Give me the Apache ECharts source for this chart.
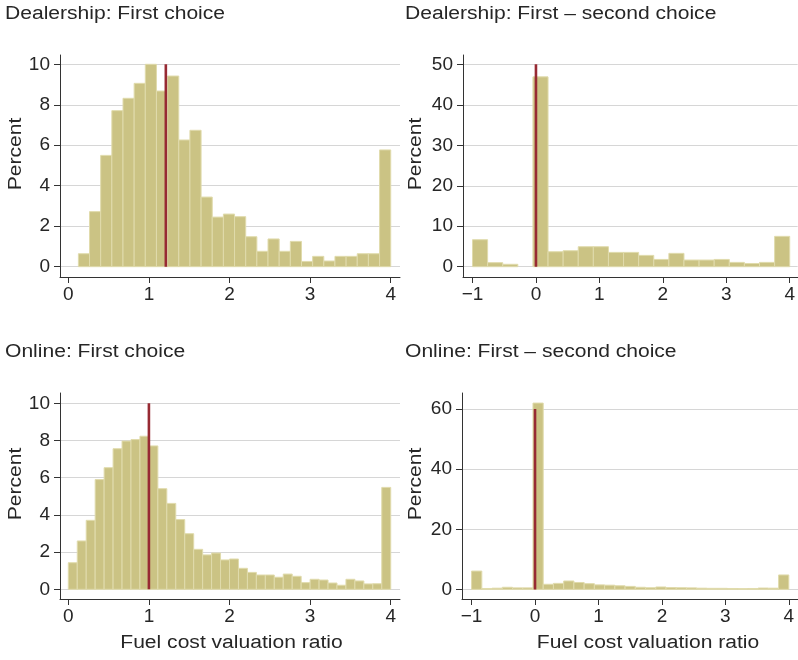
<!DOCTYPE html>
<html><head><meta charset="utf-8">
<script src="https://cdn.jsdelivr.net/npm/echarts@6/dist/echarts.min.js"></script>
<style>html,body{margin:0;padding:0;background:#fff}#c{width:798px;height:660px}</style>
</head><body><div id="c"></div>
<script>
// ---------------- data ----------------
const titles = ['Dealership: First choice', 'Dealership: First \u2013 second choice', 'Online: First choice', 'Online: First \u2013 second choice'];
const xTitle = 'Fuel cost valuation ratio';
const yTitle = 'Percent';

// histogram bins: start of first bin, bin width, percent per bin
const dealerFirstStart = 0.125;
const dealerFirstWidth = (4 - 0.125) / 28;
const dealerFirstValues = [0.64, 2.72, 5.5, 7.71, 8.32, 9.06, 10.0, 8.68, 9.42, 6.26, 6.74, 3.44, 2.45, 2.6, 2.47, 1.48, 0.76, 1.37, 0.76, 1.25, 0.26, 0.51, 0.28, 0.51, 0.51, 0.64, 0.64, 5.77];

const dealerDiffStart = -1;
const dealerDiffWidth = 5 / 21;
const dealerDiffValues = [6.67, 1.0, 0.6, 0, 46.9, 3.7, 3.95, 4.94, 4.94, 3.54, 3.54, 2.8, 1.8, 3.3, 1.65, 1.65, 1.8, 1.07, 0.8, 1.07, 7.5];

const onlineFirstStart = 0;
const onlineFirstWidth = 4 / 36;
const onlineFirstValues = [1.43, 2.6, 3.71, 5.9, 6.54, 7.56, 7.97, 8.05, 8.23, 7.71, 5.41, 4.62, 3.75, 2.99, 2.15, 1.85, 1.95, 1.58, 1.63, 1.13, 0.91, 0.77, 0.77, 0.65, 0.82, 0.70, 0.36, 0.54, 0.50, 0.34, 0.22, 0.54, 0.45, 0.29, 0.30, 5.48];

const onlineDiffStart = -1;
const onlineDiffWidth = 5 / 31;
const onlineDiffValues = [6.1, 0.3, 0.4, 0.7, 0.5, 0.5, 62, 1.7, 2.0, 2.8, 2.3, 1.9, 1.5, 1.4, 1.2, 1.0, 0.7, 0.55, 0.8, 0.6, 0.55, 0.5, 0.4, 0.35, 0.35, 0.3, 0.25, 0.3, 0.45, 0.4, 4.8];

// reference (median) lines
const refX = [1.21, 0, 1.0, 0];
const refTop = [10, 50, 10, 60];

// tick values
const xTicksFirst = [0, 1, 2, 3, 4];
const xTicksDiff = [-1, 0, 1, 2, 3, 4];
const yTicksDealerFirst = [0, 2, 4, 6, 8, 10];
const yTicksDealerDiff = [0, 10, 20, 30, 40, 50];
const yTicksOnlineFirst = [0, 2, 4, 6, 8, 10];
const yTicksOnlineDiff = [0, 20, 40, 60];

// ---------------- layout / style ----------------
const FONT = '"Liberation Sans", Arial, Helvetica, sans-serif';
const TXT = '#262626';
const AX = '#333333';
const FILL = '#cbc384';
const EDGE = '#e0dbac';
const RED = '#972a33';
const WIDEN = 1.17;

const panels = [
  {start: dealerFirstStart, width: dealerFirstWidth, values: dealerFirstValues, xt: xTicksFirst, yt: yTicksDealerFirst,
   grid: {left: 60, top: 55, width: 340, height: 222}, xr: [-0.103, 4.115], yr: [-0.51, 10.46]},
  {start: dealerDiffStart, width: dealerDiffWidth, values: dealerDiffValues, xt: xTicksDiff, yt: yTicksDealerDiff,
   grid: {left: 463, top: 55, width: 340, height: 222}, xr: [-1.150, 4.125], yr: [-2.54, 52.3]},
  {start: onlineFirstStart, width: onlineFirstWidth, values: onlineFirstValues, xt: xTicksFirst, yt: yTicksOnlineFirst,
   grid: {left: 60, top: 393, width: 340, height: 206}, xr: [-0.103, 4.115], yr: [-0.52, 10.555]},
  {start: onlineDiffStart, width: onlineDiffWidth, values: onlineDiffValues, xt: xTicksDiff, yt: yTicksOnlineDiff,
   grid: {left: 462, top: 393, width: 340, height: 206}, xr: [-1.151, 4.145], yr: [-3.2, 65.35]}
];

function fmt(v) { return String(v).replace('-', '\u2212'); }

function histItem(params, api) {
  const x0 = api.value(0), x1 = api.value(1), v = api.value(2);
  if (!v) return null;
  const a = api.coord([x0, 0]);
  const b = api.coord([x1, v]);
  return {
    type: 'rect',
    shape: {x: a[0], y: b[1], width: b[0] - a[0], height: a[1] - b[1]},
    style: {fill: FILL, stroke: EDGE, lineWidth: 1}
  };
}

const grid = [], xAxis = [], yAxis = [], series = [];
panels.forEach((p, i) => {
  grid.push(Object.assign({containLabel: false}, p.grid));
  xAxis.push({
    type: 'value', gridIndex: i, min: p.xr[0], max: p.xr[1],
    axisLine: {show: true, onZero: false, lineStyle: {color: AX, width: 1}},
    axisTick: {show: true, length: 6, customValues: p.xt, lineStyle: {color: AX, width: 1}},
    axisLabel: {customValues: p.xt, formatter: fmt, margin: 8, fontSize: 19, fontFamily: FONT, color: TXT},
    splitLine: {show: false}
  });
  yAxis.push({
    type: 'value', gridIndex: i, min: p.yr[0], max: p.yr[1],
    axisLine: {show: true, onZero: false, lineStyle: {color: AX, width: 1}},
    axisTick: {show: true, length: 6, customValues: p.yt, lineStyle: {color: AX, width: 1}},
    axisLabel: {customValues: p.yt, margin: 10, fontSize: 19, fontFamily: FONT, color: TXT},
    splitLine: {show: true, lineStyle: {color: '#d6d6d6', width: 1}}
  });
  const data = p.values.map((v, k) => [p.start + k * p.width, p.start + (k + 1) * p.width, v]);
  series.push({
    type: 'custom', xAxisIndex: i, yAxisIndex: i, renderItem: histItem,
    encode: {x: [0, 1], y: 2}, data: data, z: 2, silent: true
  });
  series.push({
    type: 'line', xAxisIndex: i, yAxisIndex: i, data: [[refX[i], 0], [refX[i], refTop[i]]],
    symbol: 'none', lineStyle: {color: RED, width: 2.6}, z: 5, silent: true
  });
});

const txt = (text, x, y, rot, align) => ({
  type: 'text', x: x, y: y, rotation: rot || 0, scaleX: WIDEN, silent: true,
  style: {text: text, fill: TXT, font: '18px ' + FONT, align: align || 'center', verticalAlign: 'middle'}
});

const option = {
  animation: false,
  backgroundColor: '#ffffff',
  grid: grid, xAxis: xAxis, yAxis: yAxis, series: series,
  graphic: [
    txt(titles[0], 5, 14, 0, 'left'),
    txt(titles[1], 405, 14, 0, 'left'),
    txt(titles[2], 5, 352, 0, 'left'),
    txt(titles[3], 405, 352, 0, 'left'),
    txt(yTitle, 16.5, 154, Math.PI / 2),
    txt(yTitle, 416.5, 154, Math.PI / 2),
    txt(yTitle, 16.5, 484, Math.PI / 2),
    txt(yTitle, 416.5, 484, Math.PI / 2),
    txt(xTitle, 231.5, 643.5),
    txt(xTitle, 648, 643.5)
  ]
};

const chart = echarts.init(document.getElementById('c'), null, {renderer: 'canvas'});
chart.setOption(option);
</script>
</body></html>
